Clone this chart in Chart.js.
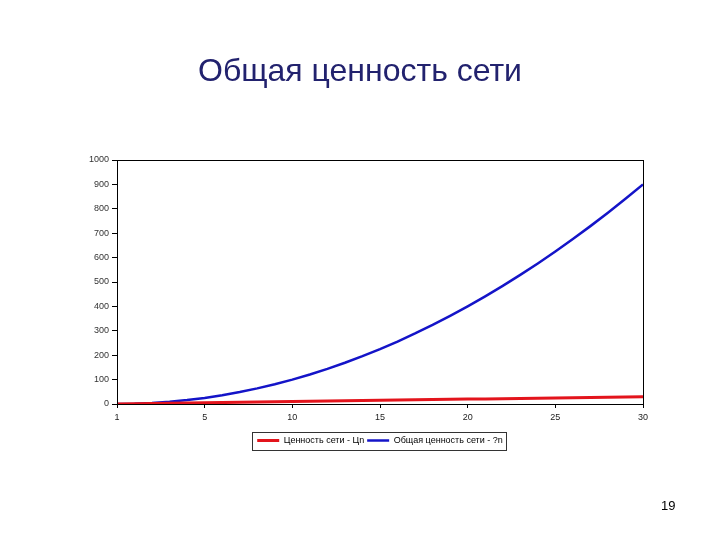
<!DOCTYPE html>
<html><head><meta charset="utf-8">
<script src="https://cdn.jsdelivr.net/npm/chart.js@4"></script>
<style>
html,body{margin:0;padding:0;background:#fff;}
#wrap{position:relative;width:720px;height:540px;}
#c{position:absolute;left:0;top:0;}
#ttl{position:absolute;left:0;top:52px;width:720px;text-align:center;line-height:40px;font:32px "Liberation Sans",Arial,sans-serif;color:#22226e;}
#pg{position:absolute;left:661px;top:498px;font:13px "Liberation Sans",Arial,sans-serif;color:#000;}
</style></head>
<body>
<div id="wrap"><canvas id="c" width="720" height="540"></canvas><div id="ttl"></div><div id="pg">19</div></div>
<script>
const chartTitle = "Общая ценность сети";
const nValues = [0,1,2,3,4,5,6,7,8,9,10,11,12,13,14,15,16,17,18,19,20,21,22,23,24,25,26,27,28,29,30];
const valueSeries = [0,1,2,3,4,5,6,7,8,9,10,11,12,13,14,15,16,17,18,19,20,21,22,23,24,25,26,27,28,29,30];
const totalSeries = [0,1,4,9,16,25,36,49,64,81,100,121,144,169,196,225,256,289,324,361,400,441,484,529,576,625,676,729,784,841,900];
const xTickValues = [0,5,10,15,20,25,30];
const xTickLabels = ["1","5","10","15","20","25","30"];
const yTickValues = [0,100,200,300,400,500,600,700,800,900,1000];
const seriesNames = ["Ценность сети - Цn","Общая ценность сети - ?n"];

document.getElementById('ttl').textContent = chartTitle;
const F = '"Liberation Sans", Arial, sans-serif';
const frame = {
  id:'frame',
  afterUpdate(chart){
    const l = chart.legend, a = chart.chartArea;
    const dx = (a.left + a.right)/2 - (l.left + l.right)/2;
    l.left += dx; l.right += dx;
    (l.legendHitBoxes||[]).forEach(h=>{ h.left += dx; });
  },
  afterDraw(chart){
    const {ctx, chartArea:a, legend:l} = chart;
    ctx.save();
    ctx.strokeStyle='#000'; ctx.lineWidth=1;
    ctx.strokeRect(Math.round(a.left)+0.5, Math.round(a.top)+0.5, Math.round(a.right-a.left), Math.round(a.bottom-a.top));
    const hb = l.legendHitBoxes;
    if (hb && hb.length){
      const x0 = Math.min(...hb.map(h=>h.left)) - 5;
      const x1 = Math.max(...hb.map(h=>h.left+h.width)) + 3;
      const cy = hb[0].top + hb[0].height/2;
      ctx.strokeStyle='#333';
      ctx.strokeRect(Math.round(x0)+0.5, Math.round(cy-9)+0.5, Math.round(x1-x0), 18);
    }
    ctx.restore();
  }
};
new Chart(document.getElementById('c'), {
  type:'line',
  data:{
    datasets:[
      {label:seriesNames[0], data:nValues.map((x,i)=>({x, y:valueSeries[i]})), borderColor:'#e3141c', backgroundColor:'#e3141c', borderWidth:3, pointRadius:0, tension:0},
      {label:seriesNames[1], data:nValues.map((x,i)=>({x, y:totalSeries[i]})), borderColor:'#1414c8', backgroundColor:'#1414c8', borderWidth:2.5, pointRadius:0, tension:0}
    ]
  },
  options:{
    responsive:false, animation:false,
    layout:{padding:{left:0,right:77,top:160,bottom:85}},
    scales:{
      x:{type:'linear', min:0, max:30,
        afterBuildTicks(s){ s.ticks = xTickValues.map(v=>({value:v})); },
        afterFit(s){ s.height = 29; },
        ticks:{color:'#222', font:{family:F,size:9}, padding:4, maxRotation:0, autoSkip:false,
          callback:(v)=>xTickLabels[xTickValues.indexOf(v)]},
        grid:{drawOnChartArea:false, drawTicks:true, tickLength:4, color:'#000'},
        border:{display:true,color:'#000',width:1}
      },
      y:{min:0, max:1000,
        afterBuildTicks(s){ s.ticks = yTickValues.map(v=>({value:v})); },
        afterFit(s){ s.width = 117; },
        ticks:{color:'#333', font:{family:F,size:9}, padding:3, callback:(v)=>String(v)},
        grid:{drawOnChartArea:false, drawTicks:true, tickLength:5, color:'#000'},
        border:{display:true,color:'#000',width:1}
      }
    },
    plugins:{
      title:{display:false},
      legend:{position:'bottom', labels:{usePointStyle:true, pointStyle:'line', pointStyleWidth:22, boxWidth:22, color:'#000', font:{family:F,size:9}, padding:3}},
      tooltip:{enabled:false}
    }
  },
  plugins:[frame]
});
</script>
</body></html>
